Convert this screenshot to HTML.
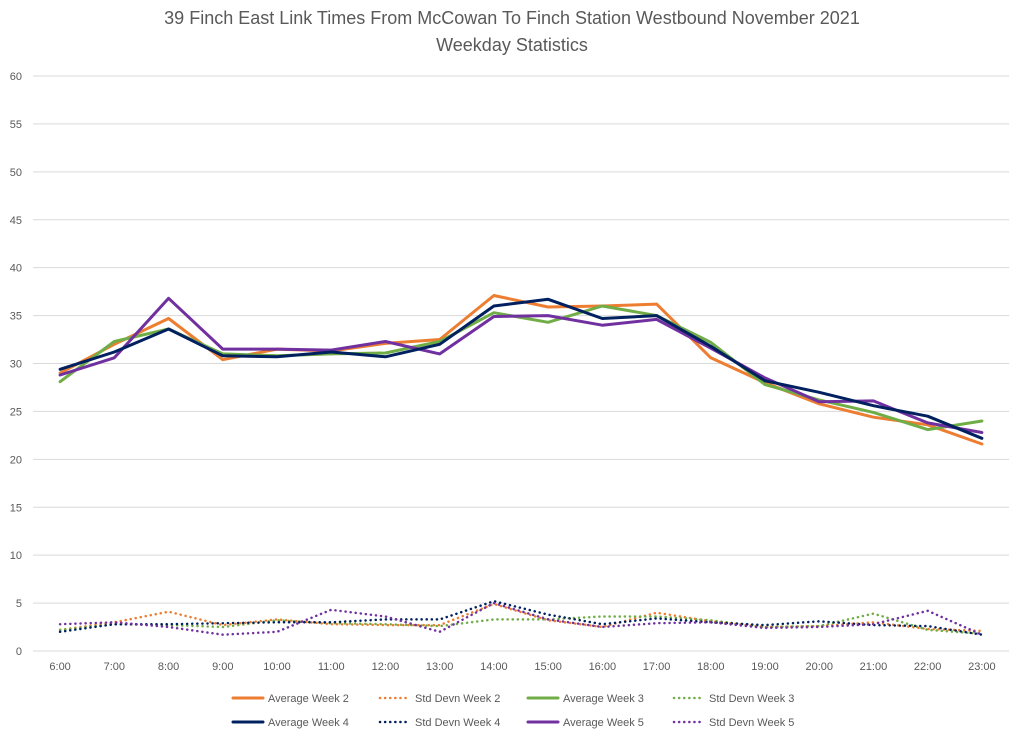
<!DOCTYPE html>
<html><head><meta charset="utf-8"><style>
body{margin:0;background:#fff;font-family:"Liberation Sans",sans-serif;}
svg{display:block}
</style></head><body>
<svg id="chart" width="1024" height="737">
<text x="512" y="24" text-anchor="middle" font-size="18" fill="#595959">39 Finch East Link Times From McCowan To Finch Station Westbound November 2021</text>
<text x="512" y="51" text-anchor="middle" font-size="18" fill="#595959">Weekday Statistics</text>
<g id="grid"></g><g id="series"></g><g id="legend"></g>
</svg>
<script>
const categories=["6:00","7:00","8:00","9:00","10:00","11:00","12:00","13:00","14:00","15:00","16:00","17:00","18:00","19:00","20:00","21:00","22:00","23:00"];
const yTicks=[0,5,10,15,20,25,30,35,40,45,50,55,60];
const avgW2=[29,32,34.7,30.4,31.5,31.3,32.1,32.5,37.1,35.9,36,36.2,30.6,28,25.8,24.4,23.6,21.6];
const sdW2=[2.2,3,4.1,2.7,3.3,2.8,2.7,2.7,4.9,3.2,2.5,4,3.1,2.5,2.6,3,2.3,2.1];
const avgW3=[28.1,32.3,33.6,31,30.8,31,31.1,32.3,35.3,34.3,36,35,32.2,27.8,26.2,24.9,23.1,24];
const sdW3=[2.2,2.8,2.7,2.5,3.2,2.9,2.8,2.6,3.3,3.3,3.6,3.6,3.2,2.5,2.6,3.9,2.2,1.8];
const avgW4=[29.4,31.2,33.6,30.8,30.7,31.2,30.7,32,36,36.7,34.7,35,31.8,28.2,27,25.6,24.5,22.2];
const sdW4=[2,2.8,2.8,2.9,3,3,3.3,3.3,5.2,3.8,2.8,3.4,3,2.7,3.1,2.7,2.6,1.7];
const avgW5=[28.8,30.6,36.8,31.5,31.5,31.4,32.3,31,34.9,35,34,34.6,31.6,28.5,26,26.1,23.8,22.8];
const sdW5=[2.8,3,2.5,1.7,2,4.3,3.6,2,5,3.3,2.5,2.9,3,2.4,2.5,2.8,4.2,1.7];
const seriesNames=["Average Week 2","Std Devn Week 2","Average Week 3","Std Devn Week 3","Average Week 4","Std Devn Week 4","Average Week 5","Std Devn Week 5"];

const NS="http://www.w3.org/2000/svg";
const x0=33,x1=1009,yBase=651,yTop=76;
const step=(x1-x0)/categories.length;
const X=i=>x0+step*(i+0.5);
const Y=v=>yBase-(v/60)*(yBase-yTop);
function mk(t,a,p){const e=document.createElementNS(NS,t);for(const k in a)e.setAttribute(k,a[k]);p.appendChild(e);return e;}
const grid=document.getElementById('grid');
yTicks.forEach(v=>{
  const l=mk('line',{x1:x0,x2:x1,y1:Y(v),y2:Y(v),stroke:'#d9d9d9','stroke-width':1},grid);
  
  
  const t=mk('text',{x:22,y:Y(v)+4,'text-anchor':'end','font-size':11,fill:'#595959'},grid);
  t.textContent=v;
  
  
});
categories.forEach((c,i)=>{
  const t=mk('text',{x:X(i),y:670,'text-anchor':'middle','font-size':11,fill:'#595959'},grid);
  t.textContent=c;
  
  
});
const colors=["#ed7d31","#ed7d31","#70ad47","#70ad47","#002060","#002060","#7030a0","#7030a0"];
const data=[avgW2,sdW2,avgW3,sdW3,avgW4,sdW4,avgW5,sdW5];
const sg=document.getElementById('series');
const order=[1,3,5,7,0,2,6,4];
order.forEach(k=>{
  const dotted=k%2===1;
  const pts=data[k].map((v,i)=>X(i).toFixed(1)+','+Y(v).toFixed(1)).join(' ');
  const p=mk('polyline',{points:pts,fill:'none',stroke:colors[k],'stroke-width':dotted?2.5:3,'stroke-linejoin':'round','stroke-linecap':'round'},sg);
  if(dotted)p.setAttribute('stroke-dasharray','0.1 5');
  
  
});
const lg=document.getElementById('legend');
const lx=[233,380,528,674];
seriesNames.forEach((n,k)=>{
  const row=Math.floor(k/4),col=k%4;
  const yy=698+row*24,xx=lx[col];
  const g=mk('g',{},lg);
  
  
  const l=mk('line',{x1:xx,x2:xx+30,y1:yy,y2:yy,stroke:colors[k],'stroke-width':3,'stroke-linecap':'round'},g);
  if(k%2===1){l.setAttribute('stroke-dasharray','0.1 5');l.setAttribute('stroke-width',2.5);}
  const t=mk('text',{x:xx+35,y:yy+4,'font-size':11,fill:'#595959'},g);
  t.textContent=n;
});
</script>
</body></html>
